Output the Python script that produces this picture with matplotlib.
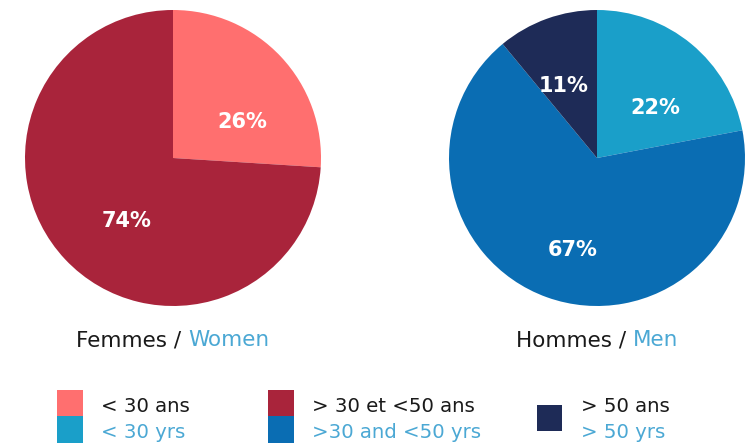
import numpy as np
import matplotlib.pyplot as plt
from matplotlib.patches import Rectangle

plt.rcParams['font.family'] = ['DejaVu Sans']

# Data
women_values = [26, 74]
men_values = [22, 67, 11]
women_colors = ['#FF6F6F', '#A9243B']
men_colors = ['#1A9FC9', '#0A6DB3', '#1E2B57']
titles_fr = ['Femmes / ', 'Hommes / ']
titles_en = ['Women', 'Men']
legend_fr = ['< 30 ans', '> 30 et <50 ans', '> 50 ans']
legend_en = ['< 30 yrs', '>30 and <50 yrs', '> 50 yrs']

# label placement (angle in degrees, radius fraction) per slice
women_lbl = [(27.5, 0.53), (-126, 0.53)]
men_lbl = [(40.8, 0.52), (-104.6, 0.64), (115, 0.54)]

W, H = 746, 443
fig = plt.figure(figsize=(W / 100, H / 100), dpi=100, facecolor='white')

blue_text = '#4BA8D4'
dark_text = '#1a1a1a'


def px_axes(cx, cy, r):
    return fig.add_axes([(cx - r) / W, (H - cy - r) / H, 2 * r / W, 2 * r / H])


pies = [(women_values, women_colors, women_lbl, 173),
        (men_values, men_colors, men_lbl, 597)]
for k, (vals, cols, lbl, cx) in enumerate(pies):
    ax = px_axes(cx, 158, 148)
    wedges, texts, autotexts = ax.pie(
        vals, colors=cols, startangle=90, counterclock=False,
        autopct='%d%%', pctdistance=0.55,
        textprops=dict(color='white', fontsize=15, fontweight='bold'))
    for t, (ang, d) in zip(autotexts, lbl):
        a = np.deg2rad(ang)
        t.set_position((d * np.cos(a), d * np.sin(a)))
    ax.set_aspect('equal')
    ax.set_xlim(-1, 1)
    ax.set_ylim(-1, 1)

    # title below each pie
    t1 = fig.text(cx / W, 1 - 340 / H, titles_fr[k], ha='right', va='center',
                  fontsize=15.5, color=dark_text)
    fig.canvas.draw()
    bb1 = t1.get_window_extent()
    t2 = fig.text(0, 1 - 340 / H, titles_en[k], ha='left', va='center',
                  fontsize=15.5, color=blue_text)
    bb2 = t2.get_window_extent()
    total = bb1.width + bb2.width
    start = cx - total / 2
    t1.set_position(((start + bb1.width) / W, 1 - 340 / H))
    t2.set_position(((start + bb1.width) / W, 1 - 340 / H))

# Legend
legend_x = [57, 268, 537]
legend_top = [women_colors[0], women_colors[1], None]
legend_bot = [men_colors[0], men_colors[1], None]
for i in range(3):
    x = legend_x[i]
    if legend_top[i] is not None:
        fig.add_artist(Rectangle((x / W, 1 - 416 / H), 26 / W, 26 / H,
                                 transform=fig.transFigure, color=legend_top[i], lw=0))
        fig.add_artist(Rectangle((x / W, 0), 26 / W, 27 / H,
                                 transform=fig.transFigure, color=legend_bot[i], lw=0))
    else:
        fig.add_artist(Rectangle((x / W, 1 - 431 / H), 25 / W, 26 / H,
                                 transform=fig.transFigure, color=men_colors[2], lw=0))
    tx = x + 44
    fig.text(tx / W, 1 - 407 / H, legend_fr[i], ha='left', va='center',
             fontsize=14.2, color=dark_text)
    fig.text(tx / W, 1 - 432 / H, legend_en[i], ha='left', va='center',
             fontsize=14.2, color=blue_text)

plt.savefig('out.png', dpi=100)
